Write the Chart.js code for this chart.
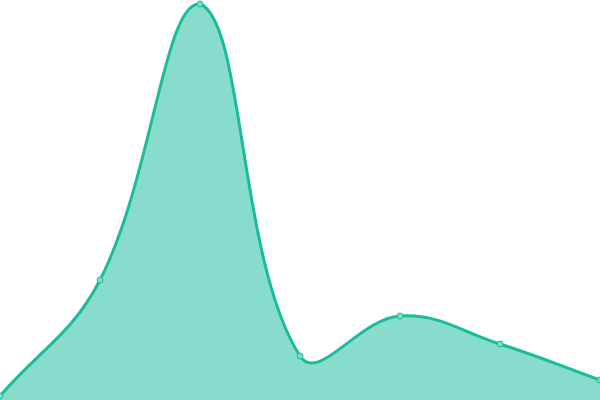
<!DOCTYPE html>
<html lang="en">
<head>
    <meta charset="UTF-8">
    <title>Area chart</title>
    <script src="https://cdn.jsdelivr.net/npm/chart.js"></script>
    <style>
        html, body {
            margin: 0;
            padding: 0;
            background: #fff;
        }
        #wrap {
            width: 600px;
            height: 400px;
        }
    </style>
</head>
<body>
    <div id="wrap"><canvas id="areaChart"></canvas></div>

    <script>
        // Données
        const labels = ['A', 'B', 'C', 'D', 'E', 'F', 'G'];
        const values = [1, 30, 99, 11, 21, 14, 5];

        const ctx = document.getElementById('areaChart').getContext('2d');
        new Chart(ctx, {
            type: 'line',
            data: {
                labels: labels,
                datasets: [{
                    data: values,
                    fill: true,
                    backgroundColor: 'rgba(26, 188, 156, 0.52)',
                    borderColor: '#1abc9c',
                    borderWidth: 3,
                    tension: 0.4,
                    pointRadius: 3,
                    pointBorderWidth: 1,
                    pointBackgroundColor: 'rgba(120, 220, 200, 1)',
                    pointBorderColor: '#1abc9c'
                }]
            },
            options: {
                responsive: true,
                maintainAspectRatio: false,
                animation: false,
                layout: { padding: 0, autoPadding: false },
                plugins: {
                    legend: { display: false },
                    tooltip: { enabled: false }
                },
                scales: {
                    x: { display: false },
                    y: { display: false, min: 0, max: 100 }
                }
            }
        });
    </script>
</body>
</html>
